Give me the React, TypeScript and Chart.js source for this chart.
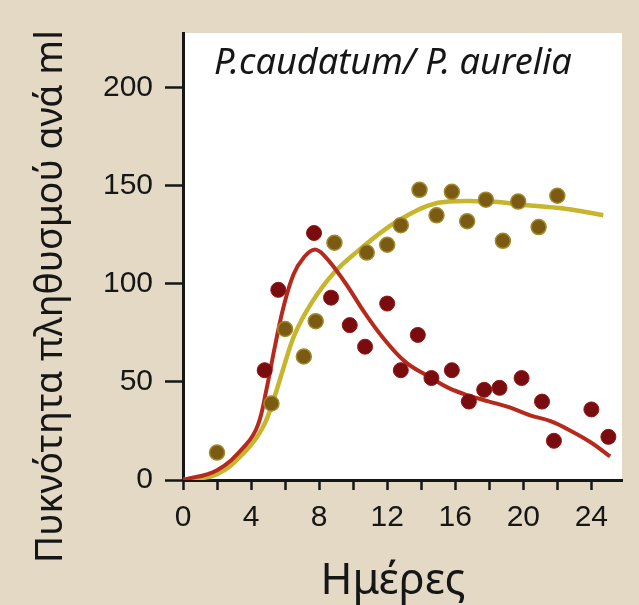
import React, { useEffect, useRef } from "react";
import { Chart, registerables } from "chart.js";

Chart.register(...registerables);

// ---- Data ----
const chartTitle = "P.caudatum/ P. aurelia";
const xAxisTitle = "Ημέρες";
const yAxisTitle = "Πυκνότητα πληθυσμού ανά ml";

const caudatumDays = [4.8, 5.6, 7.7, 8.7, 9.8, 10.7, 12, 12.8, 13.8, 14.6, 15.8, 16.8, 17.7, 18.6, 19.9, 21.1, 21.8, 24, 25];
const caudatumDensity = [56, 97, 126, 93, 79, 68, 90, 56, 74, 52, 56, 40, 46, 47, 52, 40, 20, 36, 22];

const aureliaDays = [2, 5.2, 6, 7.1, 7.8, 8.9, 10.8, 12, 12.8, 13.9, 14.9, 15.8, 16.7, 17.8, 18.8, 19.7, 20.9, 22];
const aureliaDensity = [14, 39, 77, 63, 81, 121, 116, 120, 130, 148, 135, 147, 132, 143, 122, 142, 129, 145];

const caudatumCurveDays = [0, 2, 3.7, 4.4, 4.9, 5.4, 5.9, 6.5, 7.1, 7.7, 8.3, 9.5, 10.7, 11.9, 13.1, 14.4, 15.6, 16.8, 18, 19.2, 20.4, 21.6, 22.8, 24, 25.1];
const caudatumCurveDensity = [0, 5, 18, 28, 46, 68, 88, 105, 113.5, 117.5, 114.5, 101, 85, 71, 60, 53, 47, 43, 40, 37, 33, 30, 25, 19, 12];

const aureliaCurveDays = [0, 2, 3.7, 4.7, 5.4, 5.9, 6.6, 7.6, 8.8, 10.3, 11.9, 13.2, 14.4, 15.6, 18, 20.4, 22.8, 24.7];
const aureliaCurveDensity = [0, 3, 15, 27, 43, 57, 75, 91, 105, 117, 128, 135, 140, 142, 142, 140, 138, 135];

const xMin = 0;
const xMax = 25.8;
const xStep = 2;
const xLabelEvery = 4;
const yMin = 0;
const yMax = 228;
const yStep = 50;

// ---- Styles ----
const BG = "#e3d9c5";
const INK = "#161616";
const RED_POINT = "#7a0c10";
const RED_LINE = "#b52a1c";
const OLIVE_POINT = "#7b5b14";
const OLIVE_EDGE = "#a08a2c";
const YELLOW_LINE = "#c8b52e";
const TEXT_FAMILY = "'Noto Sans', 'DejaVu Sans', sans-serif";
const TICK_FAMILY = "'Liberation Sans', Arial, sans-serif";

const zip = (xs: number[], ys: number[]) => xs.map((x, i) => ({ x, y: ys[i] }));

function fitSize(ctx: CanvasRenderingContext2D, text: string, style: string, target: number) {
  ctx.font = `${style} 100px ${TEXT_FAMILY}`;
  const w = ctx.measureText(text).width;
  return (100 * target) / w;
}

const decor = {
  id: "decor",
  beforeDraw(chart: any) {
    const { ctx, chartArea: a, width, height } = chart;
    ctx.save();
    ctx.fillStyle = BG;
    ctx.fillRect(0, 0, width, height);
    ctx.fillStyle = "#ffffff";
    ctx.fillRect(a.left, a.top, a.right - a.left, a.bottom - a.top);
    ctx.restore();
  },
  afterDraw(chart: any) {
    const { ctx } = chart;
    ctx.save();
    ctx.fillStyle = INK;
    ctx.textBaseline = "alphabetic";

    // chart title (italic)
    let s = fitSize(ctx, chartTitle, "italic", 358);
    ctx.font = `italic ${s}px ${TEXT_FAMILY}`;
    ctx.textAlign = "left";
    ctx.fillText(chartTitle, 214, 74);

    // x axis title
    s = fitSize(ctx, xAxisTitle, "normal", 145);
    ctx.font = `normal ${s}px ${TEXT_FAMILY}`;
    ctx.textAlign = "center";
    ctx.fillText(xAxisTitle, 393, 594);

    // y axis title (rotated)
    s = fitSize(ctx, yAxisTitle, "normal", 533);
    ctx.font = `normal ${s}px ${TEXT_FAMILY}`;
    ctx.textAlign = "left";
    ctx.translate(62, 563);
    ctx.rotate(-Math.PI / 2);
    ctx.fillText(yAxisTitle, 0, 0);
    ctx.restore();
  },
};

export default function App() {
  const ref = useRef<HTMLCanvasElement | null>(null);

  useEffect(() => {
    document.body.style.margin = "0";
    document.body.style.background = BG;
    if (!ref.current) return;
    const chart = new Chart(ref.current, {
      type: "scatter",
      data: {
        datasets: [
          {
            label: "P. caudatum",
            data: zip(caudatumDays, caudatumDensity),
            backgroundColor: RED_POINT,
            borderColor: "#8c1a16",
            borderWidth: 1,
            pointRadius: 7.5,
            showLine: false,
          },
          {
            label: "P. aurelia",
            data: zip(aureliaDays, aureliaDensity),
            backgroundColor: OLIVE_POINT,
            borderColor: OLIVE_EDGE,
            borderWidth: 1.5,
            pointRadius: 7.5,
            showLine: false,
          },
          {
            label: "P. caudatum curve",
            data: zip(caudatumCurveDays, caudatumCurveDensity),
            borderColor: RED_LINE,
            borderWidth: 4,
            pointRadius: 0,
            showLine: true,
            tension: 0.4,
            fill: false,
          },
          {
            label: "P. aurelia curve",
            data: zip(aureliaCurveDays, aureliaCurveDensity),
            borderColor: YELLOW_LINE,
            borderWidth: 4.5,
            pointRadius: 0,
            showLine: true,
            tension: 0.4,
            fill: false,
          },
        ],
      },
      options: {
        responsive: false,
        animation: false,
        layout: { padding: { top: 33, right: 17, left: 0, bottom: 0 } },
        plugins: {
          legend: { display: false },
          tooltip: { enabled: false },
          title: { display: false },
        },
        scales: {
          x: {
            type: "linear",
            min: xMin,
            max: xMax,
            ticks: {
              stepSize: xStep,
              includeBounds: false,
              autoSkip: false,
              maxRotation: 0,
              padding: 10,
              color: INK,
              font: { family: TICK_FAMILY, size: 30 },
              callback: (v: any) => (Math.round(v) % xLabelEvery === 0 ? String(Math.round(v)) : ""),
            },
            grid: {
              drawOnChartArea: false,
              drawTicks: true,
              tickLength: 10,
              tickColor: INK,
              tickWidth: 2.5,
            },
            border: { display: true, color: INK, width: 3 },
            afterFit: (s: any) => {
              s.height = 125;
            },
          },
          y: {
            type: "linear",
            min: yMin,
            max: yMax,
            ticks: {
              stepSize: yStep,
              includeBounds: false,
              padding: 12,
              color: INK,
              font: { family: TICK_FAMILY, size: 30 },
            },
            grid: {
              drawOnChartArea: false,
              drawTicks: true,
              tickLength: 18,
              tickColor: INK,
              tickWidth: 2.5,
            },
            border: { display: true, color: INK, width: 3 },
            afterFit: (s: any) => {
              s.width = 183;
            },
          },
        },
      },
      plugins: [decor],
    });
    return () => chart.destroy();
  }, []);

  return (
    <div style={{ width: 639, height: 605 }}>
      <canvas ref={ref} width={639} height={605} style={{ display: "block", width: 639, height: 605 }} />
    </div>
  );
}
